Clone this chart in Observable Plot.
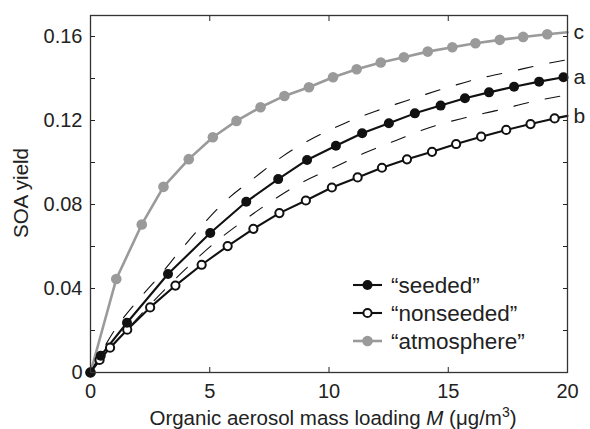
<!DOCTYPE html>
<html>
<head>
<meta charset="utf-8">
<script src="https://cdn.jsdelivr.net/npm/d3@7"></script>
<script src="https://cdn.jsdelivr.net/npm/@observablehq/plot@0.6"></script>
<style>
  body { margin: 0; background: #fff; }
  #chart { position: relative; width: 590px; height: 429px; }
</style>
</head>
<body>
<div id="chart"></div>
<script>
// ---- data ----
const seededM = [0, 0.43, 1.53, 3.25, 5.02, 6.53, 7.87, 9.08, 10.29, 11.39, 12.51, 13.6, 14.68, 15.7, 16.71, 17.76, 18.81, 19.83];
const seededY = [0, 0.0080, 0.0237, 0.0469, 0.0664, 0.0813, 0.0921, 0.1012, 0.1080, 0.1139, 0.1187, 0.1234, 0.1271, 0.1306, 0.1334, 0.1361, 0.1385, 0.1406];

const nonseededM = [0, 0.38, 0.82, 1.54, 2.5, 3.56, 4.66, 5.75, 6.83, 7.92, 9.03, 10.12, 11.2, 12.22, 13.27, 14.32, 15.33, 16.38, 17.43, 18.45, 19.46];
const nonseededY = [0, 0.0060, 0.0118, 0.0204, 0.0310, 0.0414, 0.0513, 0.0602, 0.0684, 0.0759, 0.0819, 0.0881, 0.0929, 0.0975, 0.1015, 0.1051, 0.1088, 0.1123, 0.1155, 0.1183, 0.1210];
const nonseededEnd = 0.1222; // value where the line meets M = 20

const atmosphereM = [0, 1.08, 2.15, 3.06, 4.12, 5.13, 6.12, 7.13, 8.13, 9.16, 10.17, 11.16, 12.17, 13.14, 14.14, 15.17, 16.14, 17.16, 18.14, 19.15];
const atmosphereY = [0, 0.0445, 0.0705, 0.0884, 0.1016, 0.1120, 0.1198, 0.1263, 0.1317, 0.1358, 0.1406, 0.1444, 0.1476, 0.1501, 0.1528, 0.1549, 0.1568, 0.1584, 0.1598, 0.1611];
const atmosphereEnd = 0.1620;

// dashed reference curves
const dashUpperM = [0, 1.07, 1.96, 2.87, 3.7, 4.7, 5.73, 6.85, 8.04, 10.62, 12.02, 13.45, 14.82, 16.29, 17.62, 19.08, 20];
const dashUpperY = [0, 0.0212, 0.0340, 0.0457, 0.0572, 0.0703, 0.0824, 0.0925, 0.1028, 0.1185, 0.1247, 0.1302, 0.1352, 0.1400, 0.1433, 0.1470, 0.1490];
const dashLowerM = [0, 1.0, 2.0, 3.0, 4.1, 5.18, 6.36, 7.55, 8.81, 10.2, 11.46, 12.86, 14.26, 15.66, 17.2, 18.52, 20];
const dashLowerY = [0, 0.0138, 0.0262, 0.0382, 0.0505, 0.0615, 0.0718, 0.0813, 0.0901, 0.0976, 0.1044, 0.1107, 0.1168, 0.1212, 0.1252, 0.1290, 0.1322];

const xTickLabels = [0, 5, 10, 15, 20];
const xInnerTicks = [5, 10, 15];
const yTickLabels = [0, 0.04, 0.08, 0.12, 0.16];
const yInnerTicks = [0.02, 0.04, 0.06, 0.08, 0.10, 0.12, 0.14, 0.16];

const seriesNames = ["“seeded”", "“nonseeded”", "“atmosphere”"];
const endLabels = ["a", "b", "c"];

// ---- build tables ----
const zip = (xs, ys) => xs.map((x, i) => ({x, y: ys[i]}));
const seeded = zip(seededM, seededY);
const nonseeded = zip(nonseededM, nonseededY);
const atmosphere = zip(atmosphereM, atmosphereY);
const xDomain = [0, 20], yDomain = [0, 0.17];
const nonseededLine = [...nonseeded, {x: xDomain[1], y: nonseededEnd}];
const atmosphereLine = [...atmosphere, {x: xDomain[1], y: atmosphereEnd}];
const dashUpper = zip(dashUpperM, dashUpperY);
const dashLower = zip(dashLowerM, dashLowerY);
const ends = [
  {label: endLabels[0], y: seededY[seededY.length - 1]},
  {label: endLabels[1], y: nonseededEnd},
  {label: endLabels[2], y: atmosphereEnd}
];

const BLACK = "#111", GRAY = "#9a9a9a", INK = "#222";
const FONT = "'Liberation Sans', Arial, Helvetica, sans-serif";

const plot = Plot.plot({
  width: 590,
  height: 429,
  marginLeft: 90,
  marginRight: 23,
  marginTop: 15,
  marginBottom: 57,
  style: {fontFamily: FONT, color: INK, background: "#fff", overflow: "visible"},
  x: {domain: xDomain, axis: null},
  y: {domain: yDomain, axis: null},
  marks: [
    // inward ticks on all four sides
    Plot.axisX(xInnerTicks, {anchor: "bottom", tickSize: -5, text: null, label: null}),
    Plot.axisX(xInnerTicks, {anchor: "top", tickSize: -5, text: null, label: null}),
    Plot.axisY(yInnerTicks, {anchor: "left", tickSize: -5, text: null, label: null}),
    Plot.axisY(yInnerTicks, {anchor: "right", tickSize: -5, text: null, label: null}),
    // tick labels
    Plot.axisX(xTickLabels, {anchor: "bottom", tickSize: 0, tickPadding: 11, fontSize: 20, label: null, tickFormat: d => String(d)}),
    Plot.axisY(yTickLabels, {anchor: "left", tickSize: 0, tickPadding: 8, fontSize: 20, label: null,
      tickFormat: d => d === 0 ? "0" : d.toFixed(2)}),
    // dashed reference curves
    Plot.line(dashUpper, {x: "x", y: "y", stroke: BLACK, strokeWidth: 1.1, strokeDasharray: "15,17", curve: "monotone-x"}),
    Plot.line(dashLower, {x: "x", y: "y", stroke: BLACK, strokeWidth: 1.1, strokeDasharray: "15,17", curve: "monotone-x"}),
    // atmosphere
    Plot.line(atmosphereLine, {x: "x", y: "y", stroke: GRAY, strokeWidth: 2.6}),
    Plot.dot(atmosphere, {x: "x", y: "y", r: 5.3, fill: GRAY, stroke: "none"}),
    // nonseeded
    Plot.line(nonseededLine, {x: "x", y: "y", stroke: BLACK, strokeWidth: 2.1}),
    // seeded
    Plot.line(seeded, {x: "x", y: "y", stroke: BLACK, strokeWidth: 2.1}),
    Plot.dot(nonseeded, {x: "x", y: "y", r: 4.1, fill: "#fff", stroke: BLACK, strokeWidth: 2}),
    Plot.dot(seeded, {x: "x", y: "y", r: 5, fill: BLACK, stroke: "none"}),
    // frame
    Plot.frame({stroke: "#333", strokeWidth: 1.3}),
    // end-of-curve labels
    Plot.text(ends, {x: () => xDomain[1], y: "y", text: "label", dx: 6, textAnchor: "start",
      fontSize: 21, fill: INK, clip: false})
  ]
});

document.getElementById("chart").appendChild(plot);

// ---- axis titles and legend ----
const svg = d3.select(plot);

svg.append("text")
  .attr("transform", "translate(27.5,193) rotate(-90)")
  .attr("text-anchor", "middle")
  .attr("font-family", FONT)
  .attr("font-size", 20.5)
  .attr("fill", INK)
  .text("SOA yield");

const xl = svg.append("text")
  .attr("x", 333).attr("y", 424.5)
  .attr("text-anchor", "middle")
  .attr("font-family", FONT)
  .attr("font-size", 20.5)
  .attr("fill", INK);
xl.append("tspan").text("Organic aerosol mass loading ");
xl.append("tspan").attr("font-style", "italic").text("M");
xl.append("tspan").text(" (μg/m");
xl.append("tspan").attr("font-size", 14).attr("dy", -8).text("3");
xl.append("tspan").attr("dy", 8).text(")");

const legendStyles = [
  {stroke: BLACK, fill: BLACK, r: 5, sw: 2.1, mstroke: "none"},
  {stroke: BLACK, fill: "#fff", r: 4.1, sw: 2.1, mstroke: BLACK},
  {stroke: GRAY, fill: GRAY, r: 5.3, sw: 2.6, mstroke: "none"}
];
const lg = svg.append("g").attr("font-family", FONT).attr("font-size", 22.5).attr("fill", INK)
  .attr("text-anchor", "start");
seriesNames.forEach((name, i) => {
  const cy = 285 + i * 28;
  const s = legendStyles[i];
  lg.append("line").attr("x1", 353).attr("x2", 382).attr("y1", cy).attr("y2", cy)
    .attr("stroke", s.stroke).attr("stroke-width", s.sw);
  lg.append("circle").attr("cx", 367.5).attr("cy", cy).attr("r", s.r)
    .attr("fill", s.fill).attr("stroke", s.mstroke).attr("stroke-width", 2);
  lg.append("text").attr("x", 391).attr("y", cy).attr("dy", "0.35em")
    .attr("text-anchor", "start").text(name);
});
</script>
</body>
</html>
